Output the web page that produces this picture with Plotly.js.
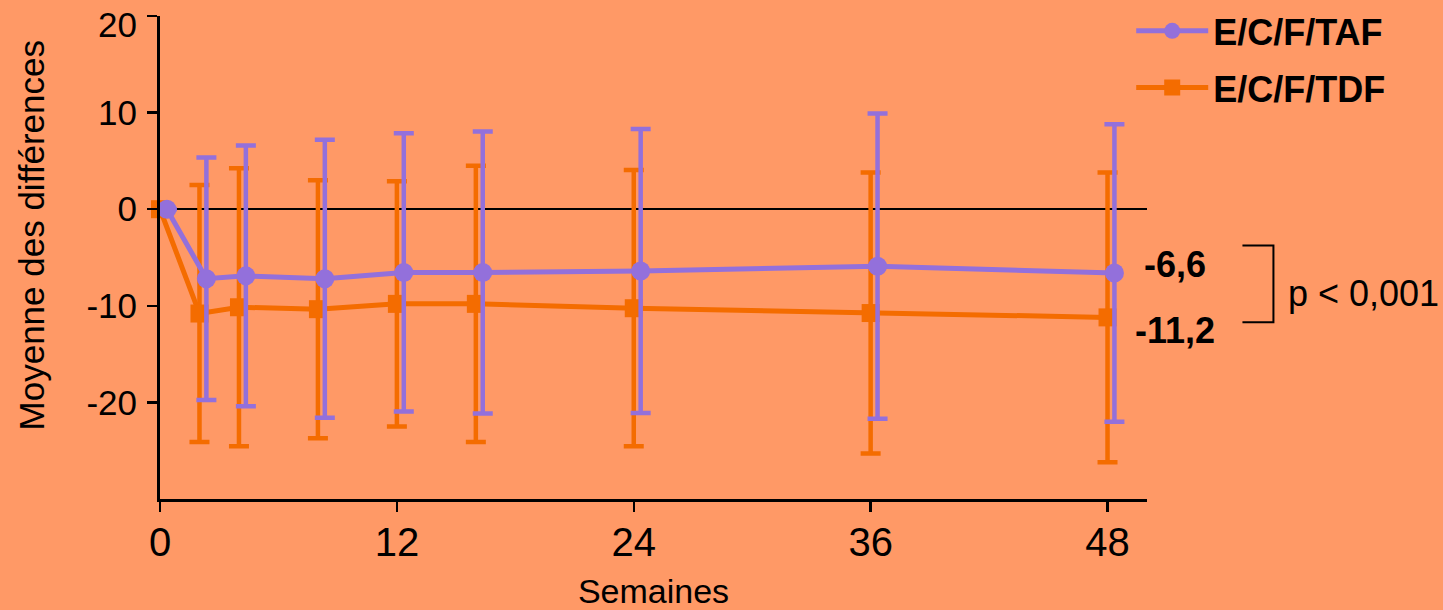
<!DOCTYPE html>
<html>
<head>
<meta charset="utf-8">
<script src="https://cdn.plot.ly/plotly-3.0.1.min.js"></script>
<style>
  html, body { margin: 0; padding: 0; background: #FF9966; }
  #chart { width: 1443px; height: 610px; }
</style>
</head>
<body>
<div id="chart"></div>
<script>
// ---- data ----
const weeks = [0, 2, 4, 8, 12, 16, 24, 36, 48];
const tafName = "E/C/F/TAF";
const tdfName = "E/C/F/TDF";
const tafMean = [0, -7.2, -6.9, -7.2, -6.55, -6.55, -6.4, -5.9, -6.6];
const tafSD   = [null, 12.55, 13.5, 14.4, 14.4, 14.6, 14.7, 15.8, 15.4];
const tdfMean = [0, -10.8, -10.15, -10.35, -9.8, -9.8, -10.25, -10.75, -11.2];
const tdfSD   = [null, 13.3, 14.4, 13.35, 12.7, 14.3, 14.3, 14.55, 15.0];
const xTicks = [0, 12, 24, 36, 48];
const yTicks = [-20, -10, 0, 10, 20];
const pText = "p < 0,001";
const xTitle = "Semaines";
const yTitle = "Moyenne des différences";

// ---- styles ----
const PURPLE = "#9370DB";
const ORANGE = "#F46C00";
const BG = "#FF9966";
const FONT = "Liberation Sans, Arial, sans-serif";

const fmt = v => v.toFixed(1).replace(".", ",");
const yTop = yTicks[yTicks.length - 1];

const tdf = {
  x: weeks,
  y: tdfMean,
  name: tdfName,
  legendgroup: "tdf",
  legendrank: 2,
  type: "scatter",
  mode: "lines+markers",
  line: { color: ORANGE, width: 5 },
  marker: { symbol: "square", size: 18, color: ORANGE },
  error_y: { type: "data", array: tdfSD, visible: true, color: ORANGE, thickness: 4.5, width: 10 },
  cliponaxis: false
};
const taf = {
  x: weeks.map(w => w + 0.35),
  y: tafMean,
  name: tafName,
  legendgroup: "taf",
  legendrank: 1,
  type: "scatter",
  mode: "lines+markers",
  line: { color: PURPLE, width: 5 },
  marker: { symbol: "circle", size: 19, color: PURPLE },
  error_y: { type: "data", array: tafSD, visible: true, color: PURPLE, thickness: 4.5, width: 10 },
  cliponaxis: false
};

const layout = {
  width: 1443,
  height: 610,
  paper_bgcolor: BG,
  plot_bgcolor: BG,
  margin: { l: 160, r: 295.5, t: 16, b: 110.5, pad: 0, autoexpand: false },
  showlegend: true,
  legend: {
    x: 0.984, xanchor: "left",
    yref: "container",
    y: 0.9985, yanchor: "top",
    bgcolor: "rgba(0,0,0,0)",
    font: { family: FONT, size: 36, color: "#000", weight: "bold" },
    traceorder: "grouped",
    tracegroupgap: 7,
    itemwidth: 72
  },
  xaxis: {
    range: [0, 50],
    tickvals: xTicks,
    ticktext: xTicks.map(String),
    ticks: "outside", ticklen: 10, tickwidth: 2.5, tickcolor: "#000",
    showline: true, linecolor: "#000", linewidth: 3,
    showgrid: false, zeroline: false,
    tickfont: { family: FONT, size: 40, color: "#000" },
    ticklabelstandoff: -4,
    ticklabeloverflow: "allow",
    title: { text: xTitle, font: { family: FONT, size: 34, color: "#000" }, standoff: 29 }
  },
  yaxis: {
    range: [-30, 20],
    tickvals: yTicks,
    // the top label sits a little lower in the reference; it is drawn as an annotation below
    ticktext: yTicks.map(v => (v === yTop ? "" : String(v))),
    ticks: "outside", ticklen: 10, tickwidth: 2.5, tickcolor: "#000",
    showline: true, linecolor: "#000", linewidth: 3,
    showgrid: false,
    zeroline: true, zerolinecolor: "#000", zerolinewidth: 2,
    tickfont: { family: FONT, size: 35, color: "#000" },
    ticklabelstandoff: 3,
    ticklabeloverflow: "allow"
  },
  annotations: [
    { xref: "paper", yref: "y", x: -0.021, y: yTop - 0.9, text: String(yTop),
      showarrow: false, xanchor: "right", yanchor: "middle",
      font: { family: FONT, size: 35, color: "#000" } },
    { xref: "paper", yref: "paper", x: -0.13, y: 0.545, text: yTitle, textangle: -90,
      showarrow: false, xanchor: "center", yanchor: "middle",
      font: { family: FONT, size: 35, color: "#000" } },
    { xref: "paper", yref: "y", x: 1.028, y: -5.76, text: fmt(tafMean[tafMean.length - 1]),
      showarrow: false, xanchor: "center", yanchor: "middle",
      font: { family: FONT, size: 36, color: "#000", weight: "bold" } },
    { xref: "paper", yref: "y", x: 1.028, y: -12.53, text: fmt(tdfMean[tdfMean.length - 1]),
      showarrow: false, xanchor: "center", yanchor: "middle",
      font: { family: FONT, size: 36, color: "#000", weight: "bold" } },
    { xref: "paper", yref: "y", x: 1.1413, y: -8.76, text: pText,
      showarrow: false, xanchor: "left", yanchor: "middle",
      font: { family: FONT, size: 36, color: "#000" } }
  ],
  shapes: [
    { type: "path", xref: "paper", yref: "y",
      path: "M 1.0967,-3.76 L 1.1281,-3.76 L 1.1281,-11.69 L 1.0967,-11.69",
      line: { color: "#000", width: 2 } }
  ]
};

Plotly.newPlot("chart", [tdf, taf], layout, { displayModeBar: false, staticPlot: true });
</script>
</body>
</html>
